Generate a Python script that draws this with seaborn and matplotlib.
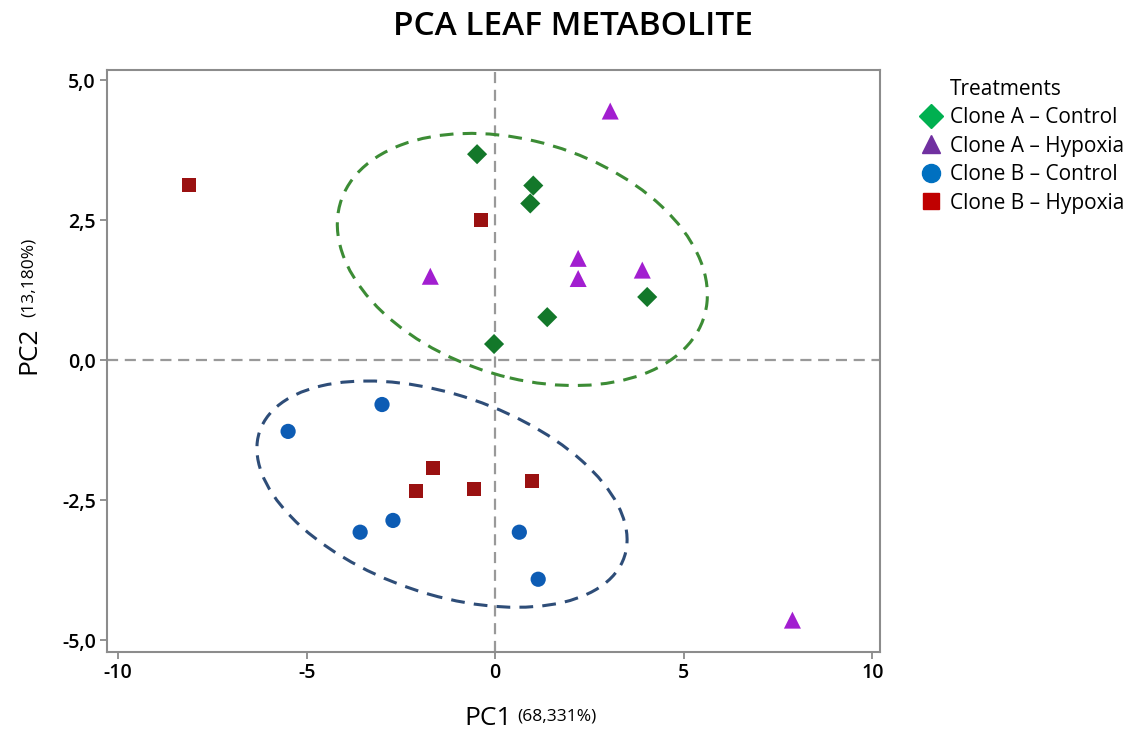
import numpy as np
import pandas as pd
import matplotlib
matplotlib.use("Agg")
import matplotlib.pyplot as plt
import seaborn as sns
from matplotlib.patches import Ellipse
from matplotlib.lines import Line2D
from matplotlib.ticker import FuncFormatter

# ── Data ────────────────────────────────────────────────────────────────────
treatments = ["Clone A – Control", "Clone A – Hypoxia", "Clone B – Control", "Clone B – Hypoxia"]

a_control_pc1 = [-0.48, 1.01, 0.93, 4.03, 1.38, -0.03]
a_control_pc2 = [3.68, 3.12, 2.80, 1.13, 0.77, 0.29]

a_hypoxia_pc1 = [3.05, -1.72, 2.20, 2.20, 3.90, 7.88]
a_hypoxia_pc2 = [4.45, 1.50, 1.82, 1.46, 1.61, -4.64]

b_control_pc1 = [-5.49, -3.00, -3.58, -2.71, 0.64, 1.14]
b_control_pc2 = [-1.27, -0.79, -3.07, -2.86, -3.07, -3.91]

b_hypoxia_pc1 = [-8.12, -0.37, -1.64, -2.10, -0.56, 0.98]
b_hypoxia_pc2 = [3.13, 2.50, -1.93, -2.34, -2.30, -2.16]

# group ellipses: centre, width, height, angle (data units)
ellipse_centers = [(0.72, 1.80), (-1.41, -2.39)]
ellipse_widths = [9.91, 9.97]
ellipse_heights = [4.28, 3.64]
ellipse_angles = [-9.0, -10.9]

x_ticks = [-10, -5, 0, 5, 10]
y_ticks = [-5.0, -2.5, 0.0, 2.5, 5.0]

# ── Styling ─────────────────────────────────────────────────────────────────
point_colors = {
    treatments[0]: "#13782a",
    treatments[1]: "#a21ed0",
    treatments[2]: "#0d5cb4",
    treatments[3]: "#9a1111",
}
legend_colors = ["#00b050", "#7030a0", "#0070c0", "#c00000"]
markers = {treatments[0]: "D", treatments[1]: "^", treatments[2]: "o", treatments[3]: "s"}
sizes = {treatments[0]: 105, treatments[1]: 150, treatments[2]: 120, treatments[3]: 105}
ellipse_colors = ["#3c8c35", "#2e4d78"]

df = pd.DataFrame({
    "PC1": a_control_pc1 + a_hypoxia_pc1 + b_control_pc1 + b_hypoxia_pc1,
    "PC2": a_control_pc2 + a_hypoxia_pc2 + b_control_pc2 + b_hypoxia_pc2,
    "Treatment": [treatments[0]] * len(a_control_pc1) + [treatments[1]] * len(a_hypoxia_pc1)
                 + [treatments[2]] * len(b_control_pc1) + [treatments[3]] * len(b_hypoxia_pc1),
})

sns.set_theme(style="white")
plt.rcParams["font.family"] = ["Open Sans", "DejaVu Sans"]
plt.rcParams["axes.unicode_minus"] = False
plt.rcParams["text.color"] = "black"
plt.rcParams["xtick.labelcolor"] = "black"
plt.rcParams["ytick.labelcolor"] = "black"

fig = plt.figure(figsize=(11.4, 7.31), dpi=100)
ax = fig.add_axes([0.0939, 0.108, 0.6783, 0.796])

# reference lines through the origin
ax.axhline(0, color="#999999", lw=1.6, ls=(0, (5, 3)), zorder=1)
ax.axvline(0, color="#999999", lw=1.6, ls=(0, (5, 3)), zorder=1)

# group ellipses
for c, w, h, ang, col in zip(ellipse_centers, ellipse_widths, ellipse_heights,
                             ellipse_angles, ellipse_colors):
    ax.add_patch(Ellipse(c, w, h, angle=ang, fill=False, ec=col, lw=2.2,
                         ls=(0, (4.5, 3)), zorder=2))

sns.scatterplot(data=df, x="PC1", y="PC2", hue="Treatment", style="Treatment",
                size="Treatment", palette=point_colors, markers=markers, sizes=sizes,
                linewidth=0, legend=False, ax=ax, zorder=3)

ax.set_xlim(-10.29, 10.21)
ax.set_ylim(-5.21, 5.18)
ax.set_xticks(x_ticks)
ax.set_yticks(y_ticks)
ax.yaxis.set_major_formatter(FuncFormatter(lambda v, p: f"{v:.1f}".replace(".", ",")))
ax.tick_params(axis="both", which="major", direction="out", length=5, width=1.2,
               color="#808080", labelsize=14, pad=3, bottom=True, left=True)
for lab in ax.get_xticklabels() + ax.get_yticklabels():
    lab.set_fontweight("semibold")
for sp in ax.spines.values():
    sp.set_color("#8c8c8c")
    sp.set_linewidth(1.5)

ax.set_xlabel("")
ax.set_ylabel("")

# axis labels (main label + smaller variance text)
fig.text(0.449, 0.008, "PC1", fontsize=19, ha="right", va="baseline")
fig.text(0.4535, 0.014, "(68,331%)", fontsize=12.5, ha="left", va="baseline")
fig.text(0.014, 0.521, "PC2", fontsize=19, rotation=90, ha="left", va="center")
fig.text(0.018, 0.567, "(13,180%)", fontsize=12.5, rotation=90, ha="left", va="bottom")

fig.text(0.503, 0.964, "PCA LEAF METABOLITE", fontsize=24, fontweight="semibold",
         ha="center", va="center")

# legend
handles = [Line2D([], [], ls="none", marker=markers[t], color=c, markersize=ms)
           for t, c, ms in zip(treatments, legend_colors, [12, 13, 13, 11])]
leg = fig.legend(handles, treatments, title="Treatments", loc="upper left",
                 bbox_to_anchor=(0.8, 0.904), frameon=False, fontsize=15,
                 title_fontsize=15, handlelength=1.0, handletextpad=0.4,
                 labelspacing=0.36, borderaxespad=0)
leg._legend_box.align = "left"
leg.get_title().set_position((30, 0))

fig.savefig("out.png", dpi=100, facecolor="white")
